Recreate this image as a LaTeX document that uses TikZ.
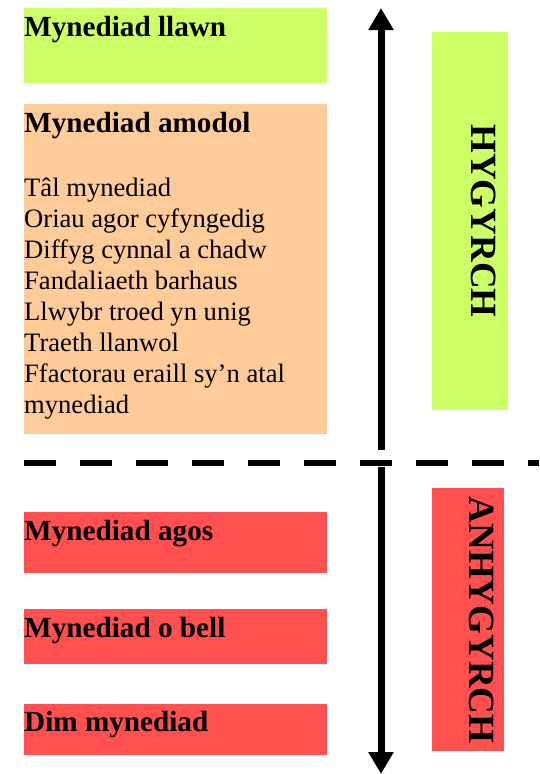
\documentclass[tikz,border=0pt]{standalone}
\usepackage{fontspec}
\setmainfont{Liberation Serif}
\usetikzlibrary{arrows.meta,positioning}
\definecolor{accgreen}{HTML}{CCFF66}
\definecolor{accorange}{HTML}{FFCC99}
\definecolor{accred}{HTML}{FF4F4F}

\begin{document}
\begin{tikzpicture}[x=1pt, y=-1pt, inner sep=0pt,
    heading/.style={anchor=base west, font=\bfseries\fontsize{29.2}{31}\selectfont},
    bodytext/.style={anchor=base west, align=left, font=\fontsize{26.6}{31}\selectfont},
    sidetext/.style={rotate=-90, font=\bfseries\fontsize{37}{40}\selectfont},
    bigarrow/.style={line width=7pt, -{Triangle[width=24pt, length=22pt]}}]
  \useasboundingbox (0,0) rectangle (539,774);
  % access boxes
  \fill[accgreen] (24,8) rectangle (327,83);
  \fill[accorange] (24,104) rectangle (327,434);
  \fill[accred] (24,512) rectangle (327,573);
  \fill[accred] (24,609) rectangle (327,664);
  \fill[accred] (24,704) rectangle (327,755);
  \node[heading] (full) at (24,36) {Mynediad llawn};
  \node[heading] (cond) at (24,132) {Mynediad amodol};
  % last line sits on the base anchor
  \node[bodytext] (reasons) at (24,413) {Tâl mynediad\\Oriau agor cyfyngedig\\Diffyg cynnal a chadw\\Fandaliaeth barhaus\\Llwybr troed yn unig\\Traeth llanwol\\Ffactorau eraill sy’n atal\\mynediad};
  \node[heading] (near) at (24,540) {Mynediad agos};
  \node[heading] (far) at (24,637) {Mynediad o bell};
  \node[heading] (none) at (24,731) {Dim mynediad};
  % side labels
  \fill[accgreen] (432,32) rectangle (508,410);
  \fill[accred] (432,488) rectangle (504,751);
  \node[sidetext] (acc) at (484,221) {HYGYRCH};
  \node[sidetext] (inacc) at (482,620) {ANHYGYRCH};
  % divider and arrows
  \coordinate (divl) at (24,463);
  \coordinate (divr) at (539,463);
  \draw[line width=6pt, dash pattern=on 32pt off 24pt] (divl) -- (divr);
  \coordinate (uptop) at (381,8);
  \coordinate (upbot) at (381,450);
  \coordinate (downtop) at (381,467);
  \coordinate (downbot) at (381,774);
  \draw[bigarrow] (upbot) -- (uptop);
  \draw[bigarrow] (downtop) -- (downbot);
\end{tikzpicture}
\end{document}
